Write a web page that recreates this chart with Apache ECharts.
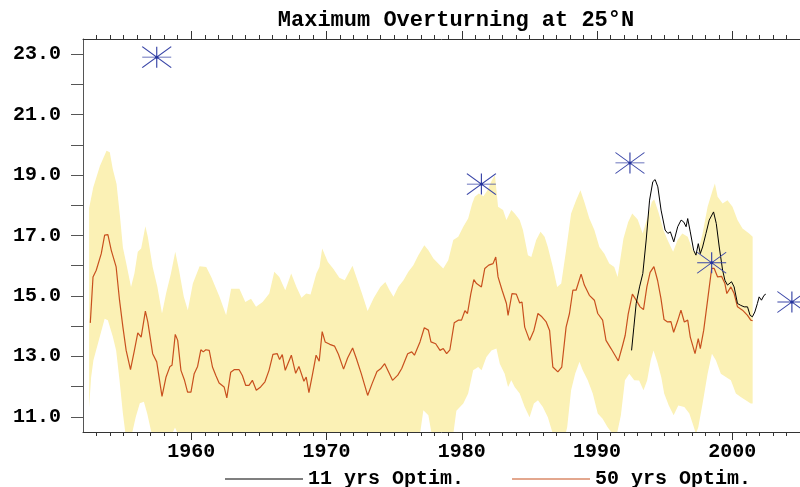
<!DOCTYPE html>
<html><head><meta charset="utf-8">
<script src="https://cdn.jsdelivr.net/npm/echarts@6/dist/echarts.min.js"></script>
<style>html,body{margin:0;padding:0;background:#fff}#c{width:800px;height:487px}</style>
</head><body><div id="c"></div>
<script>
const titleText = 'Maximum Overturning at 25°N';
const xMin = 1952, xMax = 2005;
const yMin = 10.5, yMax = 23.5;
const xLabelValues = [1960, 1970, 1980, 1990, 2000];
const yTickValues = [11, 12, 13, 14, 15, 16, 17, 18, 19, 20, 21, 22, 23];
const yLabelValues = [11, 13, 15, 17, 19, 21, 23];
const legendNames = ['11 yrs Optim.', '50 yrs Optim.'];

// 50 yrs optimisation (red)
const yr50 = [1952.54,1952.74,1952.98,1953.35,1953.6,1953.84,1954.09,1954.45,1954.7,1954.95,1955.19,1955.51,1955.8,1956.05,1956.3,1956.61,1956.79,1957.15,1957.45,1957.84,1958.14,1958.43,1958.58,1958.82,1959.0,1959.24,1959.49,1959.73,1959.98,1960.22,1960.47,1960.71,1960.89,1961.08,1961.33,1961.57,1961.82,1962.06,1962.43,1962.63,1962.92,1963.17,1963.54,1963.78,1964.03,1964.27,1964.52,1964.81,1965.13,1965.45,1965.75,1966.04,1966.36,1966.53,1966.73,1966.95,1967.4,1967.72,1967.96,1968.33,1968.5,1968.7,1968.95,1969.23,1969.46,1969.68,1969.9,1970.24,1970.6,1970.88,1971.26,1971.56,1971.93,1972.2,1972.57,1973.04,1973.37,1973.73,1974.0,1974.3,1974.6,1974.88,1975.27,1975.56,1976.0,1976.3,1976.5,1976.67,1976.91,1977.23,1977.53,1977.72,1978.07,1978.39,1978.63,1978.88,1979.12,1979.44,1979.74,1979.98,1980.23,1980.42,1980.67,1980.89,1981.09,1981.45,1981.7,1981.99,1982.31,1982.51,1982.68,1982.98,1983.3,1983.42,1983.54,1983.71,1984.03,1984.28,1984.45,1984.65,1985.01,1985.33,1985.63,1985.92,1986.24,1986.49,1986.73,1987.1,1987.39,1987.71,1987.96,1988.21,1988.45,1988.82,1989.06,1989.43,1989.8,1990.05,1990.41,1990.66,1991.03,1991.4,1991.57,1991.89,1992.08,1992.3,1992.61,1992.88,1993.18,1993.43,1993.68,1993.92,1994.2,1994.47,1994.72,1994.95,1995.21,1995.46,1995.66,1995.95,1996.2,1996.45,1996.7,1996.89,1997.24,1997.48,1997.63,1997.88,1998.17,1998.47,1998.66,1998.91,1999.2,1999.45,1999.59,1999.89,2000.13,2000.38,2000.75,2001.12,2001.36,2001.5];
const val50 = [14.11,15.63,15.85,16.4,17.01,17.03,16.51,15.96,14.86,13.97,13.2,12.56,13.2,13.78,13.64,14.5,14.14,13.09,12.82,11.68,12.32,12.67,12.71,13.73,13.53,12.54,12.23,11.82,11.82,12.43,12.67,13.22,13.15,13.22,13.2,12.65,12.37,12.12,11.99,11.63,12.48,12.56,12.56,12.37,12.04,12.04,12.21,11.88,11.99,12.16,12.54,13.07,13.09,12.9,13.06,12.54,13.04,12.44,12.67,12.18,12.32,11.8,12.37,13.04,12.84,13.82,13.48,13.4,13.34,13.07,12.58,12.95,13.28,12.94,12.43,11.71,12.1,12.5,12.59,12.76,12.48,12.21,12.38,12.6,13.09,13.15,13.04,13.22,13.48,13.95,13.87,13.48,13.42,13.2,13.26,13.09,13.22,14.11,14.2,14.2,14.51,14.42,15.08,15.54,15.41,15.3,15.91,16.02,16.07,16.29,15.63,15.19,14.75,14.36,14.36,15.08,15.06,14.77,14.8,13.97,13.53,13.86,14.42,14.31,14.14,13.86,12.65,12.49,12.65,13.97,14.42,15.19,15.19,15.72,15.36,15.02,14.86,14.42,14.2,13.53,13.26,12.98,12.85,13.37,13.7,14.4,15.06,14.87,14.64,14.55,15.3,15.78,15.97,15.52,14.92,14.22,14.14,14.15,13.8,14.17,14.53,14.14,14.2,13.64,13.09,13.59,13.26,13.86,14.86,15.91,15.91,15.63,15.65,15.41,15.08,15.3,15.08,14.64,14.53,14.36,14.2,14.18];

// 11 yrs optimisation (black)
const yr11 = [1992.55,1992.72,1992.89,1993.14,1993.38,1993.63,1993.88,1994.12,1994.29,1994.49,1994.73,1995.03,1995.23,1995.42,1995.67,1995.96,1996.21,1996.4,1996.58,1996.7,1996.89,1997.14,1997.31,1997.48,1997.63,1997.8,1998.05,1998.29,1998.61,1998.81,1999.03,1999.28,1999.45,1999.64,1999.94,2000.13,2000.38,2000.62,2000.87,2001.12,2001.31,2001.48,2001.66,2001.85,2001.98,2002.15,2002.34,2002.47];
const val11 = [13.2,13.97,14.75,15.3,15.74,16.85,18.17,18.78,18.85,18.61,17.84,17.18,17.07,17.12,16.79,17.29,17.51,17.45,17.29,17.56,17.12,16.51,16.35,16.73,16.4,16.62,17.07,17.51,17.78,17.4,16.62,15.85,15.52,15.36,15.47,15.3,14.75,14.69,14.64,14.64,14.36,14.31,14.47,14.75,14.97,14.86,15.02,15.06];

// uncertainty band (yellow)
const bandUpperYears = [1952.45,1952.76,1953.25,1953.74,1953.98,1954.2,1954.48,1954.73,1954.95,1955.2,1955.55,1955.8,1956.05,1956.3,1956.61,1956.79,1957.15,1957.5,1957.84,1958.14,1958.5,1958.82,1959.1,1959.45,1959.75,1960.12,1960.62,1961.11,1961.48,1962.09,1962.58,1962.95,1963.56,1964.0,1964.42,1964.79,1965.28,1965.77,1966.14,1966.51,1966.95,1967.39,1967.78,1968.15,1968.5,1968.82,1969.25,1969.48,1969.68,1970.1,1970.5,1970.95,1971.35,1971.92,1972.3,1972.62,1973.04,1973.5,1973.98,1974.35,1974.66,1974.95,1975.3,1975.69,1976.05,1976.42,1976.79,1977.23,1977.53,1977.9,1978.26,1978.63,1979.0,1979.37,1979.74,1980.11,1980.47,1980.77,1980.96,1981.26,1981.6,1981.9,1982.2,1982.45,1982.68,1983.05,1983.3,1983.66,1983.91,1984.28,1984.52,1984.89,1985.14,1985.5,1985.82,1986.12,1986.36,1986.73,1987.05,1987.35,1987.71,1988.08,1988.45,1988.77,1989.06,1989.43,1989.8,1990.17,1990.54,1990.9,1991.27,1991.52,1991.95,1992.3,1992.6,1993.0,1993.37,1993.74,1994.05,1994.22,1994.55,1994.9,1995.21,1995.62,1995.95,1996.3,1996.7,1997.07,1997.43,1997.8,1998.17,1998.54,1998.71,1998.91,1999.28,1999.64,2000.01,2000.38,2000.75,2001.24,2001.5];
const bandUpper = [17.9,18.6,19.3,19.8,19.75,19.2,18.7,17.65,16.6,16.07,15.3,15.74,16.46,16.57,17.31,16.96,15.96,15.3,14.42,15.08,15.74,16.46,15.85,14.97,14.53,15.41,15.98,15.96,15.63,14.97,14.36,15.24,15.24,14.8,14.91,14.64,14.8,15.08,15.8,15.63,15.19,15.74,15.3,14.94,15.08,15.05,15.74,15.96,16.57,16.12,15.9,15.6,15.52,16.0,15.5,15.08,14.5,14.94,15.3,15.46,15.19,14.97,15.3,15.52,15.8,16.02,16.35,16.68,16.51,16.24,16.07,15.91,16.18,16.85,16.96,17.29,17.56,18.06,18.28,18.39,18.3,18.5,18.8,19.0,17.95,17.84,17.51,17.84,17.73,17.51,17.18,16.35,16.29,16.85,17.12,16.96,16.62,15.96,15.3,15.41,16.51,17.73,18.17,18.5,18.11,17.56,17.18,16.62,16.4,16.07,15.96,15.63,16.9,17.45,17.73,17.53,17.07,17.62,18.11,18.2,17.75,17.18,16.85,16.46,16.85,17.07,16.96,16.51,16.4,17.07,17.95,18.5,18.72,18.28,18.06,18.17,17.95,17.51,17.23,17.07,16.96];
const bandLowerYears = [1952.45,1952.6,1952.77,1953.1,1953.6,1953.84,1954.21,1954.45,1954.7,1954.95,1955.14,1955.5,1955.9,1956.2,1956.5,1956.75,1956.95,1957.15,1958.4,1958.65,1958.8,1959.0,1959.2,1976.8,1976.95,1977.16,1977.53,1977.77,1978.0,1979.3,1979.6,1980.11,1980.47,1980.84,1981.21,1981.46,1981.82,1982.19,1982.56,1982.81,1983.17,1983.42,1983.66,1983.91,1984.28,1984.65,1985.01,1985.33,1985.63,1985.99,1986.36,1986.73,1987.0,1987.55,1987.79,1988.08,1988.38,1988.7,1988.94,1989.31,1989.68,1990.05,1990.41,1990.78,1991.15,1991.45,1991.76,1992.06,1992.38,1992.75,1993.11,1993.43,1993.7,1993.97,1994.17,1994.46,1994.75,1994.96,1995.3,1995.66,1996.0,1996.45,1996.82,1997.07,1997.31,1997.48,1997.8,1998.17,1998.49,1998.78,1999.15,1999.52,1999.89,2000.26,2000.62,2000.99,2001.36,2001.5];
const bandLower = [11.3,12.3,12.87,13.42,14.25,14.2,13.64,13.2,12.21,11.11,10.44,10.2,11.0,11.45,11.5,11.1,10.7,10.3,10.2,10.5,10.65,10.45,10.2,10.2,10.56,11.22,11.05,10.44,10.2,10.2,11.2,11.44,11.77,12.54,12.65,12.54,12.98,13.2,13.26,12.76,12.43,11.99,12.21,11.99,11.77,11.33,10.99,11.44,11.55,11.33,10.99,10.44,10.2,10.2,10.66,11.88,12.43,12.82,12.54,12.21,11.77,11.11,10.94,10.66,10.44,10.4,11.05,12.21,12.43,12.21,12.2,11.88,12.2,12.87,13.2,12.8,12.3,11.77,11.38,11.05,11.38,11.33,11.11,10.77,10.44,10.66,11.44,12.43,13.09,12.87,12.43,12.32,12.21,11.77,11.66,11.55,11.44,11.44];

// observations (stars)
const obsYears = [1957.45, 1981.45, 1992.43, 1998.47, 2004.4];
const obsValues = [22.9, 18.7, 19.4, 16.1, 14.8];

const FONT = '"Liberation Mono", "DejaVu Sans Mono", monospace';
const axisColor = '#333';
const bandColor = '#fbf1b5';
const redColor = '#c8501e';
const starColor = '#3b47a8';

const pairs = (xs, ys) => xs.map((x, i) => [x, ys[i]]);

const xAxisBase = {
  type: 'value', min: xMin, max: xMax, splitNumber: 5,
  axisLine: { show: true, lineStyle: { color: axisColor, width: 1 } },
  axisTick: { show: true, inside: false, length: 8, customValues: xLabelValues, lineStyle: { color: axisColor } },
  minorTick: { show: true, splitNumber: 10, length: 4, lineStyle: { color: axisColor } },
  splitLine: { show: false }, minorSplitLine: { show: false }
};

const chart = echarts.init(document.getElementById('c'), null, { renderer: 'canvas' });
chart.setOption({
  animation: false,
  backgroundColor: '#fff',
  title: {
    text: titleText, left: 451, top: 4, textAlign: 'center',
    textStyle: { fontFamily: FONT, fontSize: 22, fontWeight: 'bold', color: '#000' }
  },
  legend: {
    data: legendNames.map(n => ({ name: n, icon: 'rect' })),
    left: 225, top: 469, padding: 0, itemWidth: 78, itemHeight: 1, itemGap: 48,
    textStyle: { fontFamily: FONT, fontSize: 20, fontWeight: 'bold', color: '#000' }
  },
  grid: { left: 83, top: 39, width: 720, height: 393, containLabel: false },
  xAxis: [
    Object.assign({}, xAxisBase, {
      position: 'bottom',
      axisLabel: { show: true, customValues: xLabelValues, margin: 10, fontFamily: FONT, fontSize: 20, fontWeight: 'bold', color: '#000',
        formatter: v => String(v) }
    }),
    Object.assign({}, xAxisBase, { position: 'top', axisLabel: { show: false } })
  ],
  yAxis: {
    type: 'value', min: yMin, max: yMax,
    axisLine: { show: true, lineStyle: { color: '#555', width: 1 } },
    axisTick: { show: true, inside: false, length: 12, customValues: yTickValues, lineStyle: { color: '#555' } },
    axisLabel: { show: true, customValues: yLabelValues, margin: 22, fontFamily: FONT, fontSize: 20, fontWeight: 'bold', color: '#000',
      formatter: v => Number(v).toFixed(1) },
    splitLine: { show: false }
  },
  series: [
    {
      type: 'custom', name: 'band', silent: true, clip: true, z: 1, xAxisIndex: 0, yAxisIndex: 0,
      data: [[xMin, yMin]],
      renderItem: function (params, api) {
        const pts = [];
        for (let i = 0; i < bandUpperYears.length; i++) pts.push(api.coord([bandUpperYears[i], bandUpper[i]]));
        for (let i = bandLowerYears.length - 1; i >= 0; i--) pts.push(api.coord([bandLowerYears[i], bandLower[i]]));
        return { type: 'polygon', shape: { points: pts }, style: { fill: bandColor, stroke: null } };
      }
    },
    {
      type: 'line', name: legendNames[1], data: pairs(yr50, val50), z: 3,
      symbol: 'none', showSymbol: false, lineStyle: { color: redColor, width: 1.2 }, itemStyle: { color: redColor }
    },
    {
      type: 'line', name: legendNames[0], data: pairs(yr11, val11), z: 4,
      symbol: 'none', showSymbol: false, lineStyle: { color: '#000', width: 1 }, itemStyle: { color: '#000' }
    },
    {
      type: 'scatter', name: 'obs', data: pairs(obsYears, obsValues), z: 5, silent: true,
      symbol: 'path://M0,10L20,10M10,0L10,20M0,0L20,20M20,0L0,20', symbolSize: [29, 21],
      itemStyle: { color: starColor, borderColor: starColor, borderWidth: 1, opacity: 1 }
    },
    {
      type: 'scatter', name: 'obsCenter', data: pairs(obsYears, obsValues), z: 6, silent: true,
      symbol: 'circle', symbolSize: 3, itemStyle: { color: '#1f2f9a' }
    }
  ]
});
</script></body></html>
